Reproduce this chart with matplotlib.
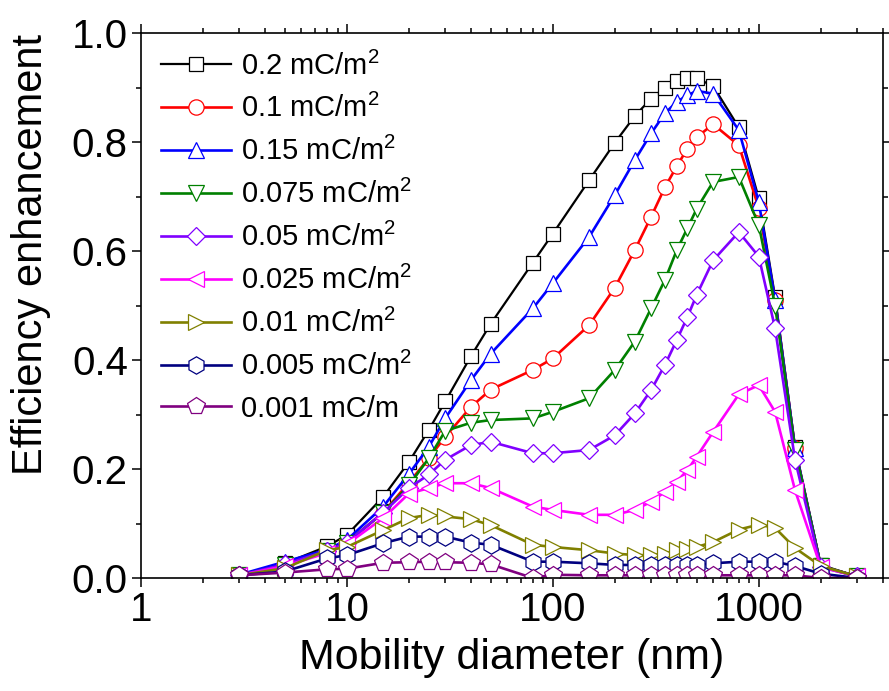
import matplotlib
matplotlib.use("Agg")
import matplotlib.pyplot as plt
from matplotlib.ticker import LogLocator, NullFormatter, FixedLocator, MultipleLocator

plt.rcParams['font.family'] = ['Liberation Sans', 'DejaVu Sans']
plt.rcParams['mathtext.fontset'] = 'custom'
plt.rcParams['mathtext.rm'] = 'Liberation Sans'
plt.rcParams['mathtext.it'] = 'Liberation Sans:italic'

diameter = [3, 5, 8, 10, 15, 20, 25, 30, 40, 50, 80, 100, 150, 200, 250, 300,
            350, 400, 450, 500, 600, 800, 1000, 1200, 1500, 2000, 3000]

s_0p2 = [0.004, 0.027, 0.058, 0.079, 0.149, 0.213, 0.272, 0.324, 0.407, 0.467, 0.579, 0.632,
         0.730, 0.799, 0.848, 0.880, 0.900, 0.912, 0.917, 0.917, 0.903, 0.827, 0.697, 0.516,
         0.241, 0.024, 0.003]
s_0p1 = [0.005, 0.025, 0.050, 0.065, 0.120, 0.175, 0.220, 0.259, 0.314, 0.346, 0.382, 0.403,
         0.464, 0.533, 0.602, 0.663, 0.717, 0.756, 0.788, 0.809, 0.833, 0.794, 0.679, 0.510,
         0.238, 0.022, 0.003]
s_0p15 = [0.006, 0.030, 0.052, 0.070, 0.131, 0.191, 0.241, 0.293, 0.363, 0.412, 0.495, 0.541,
          0.626, 0.703, 0.767, 0.816, 0.853, 0.874, 0.886, 0.894, 0.889, 0.822, 0.690, 0.510,
          0.238, 0.022, 0.003]
s_0p075 = [0.005, 0.024, 0.050, 0.065, 0.120, 0.170, 0.220, 0.270, 0.285, 0.290, 0.293, 0.305,
           0.330, 0.382, 0.434, 0.495, 0.547, 0.602, 0.642, 0.678, 0.727, 0.736, 0.648, 0.500,
           0.235, 0.022, 0.003]
s_0p05 = [0.005, 0.025, 0.050, 0.065, 0.120, 0.165, 0.190, 0.217, 0.244, 0.250, 0.229, 0.229,
          0.235, 0.262, 0.302, 0.345, 0.391, 0.437, 0.479, 0.520, 0.583, 0.635, 0.590, 0.458,
          0.217, 0.020, 0.003]
s_0p025 = [0.005, 0.022, 0.046, 0.062, 0.110, 0.155, 0.165, 0.174, 0.174, 0.165, 0.131, 0.125,
           0.116, 0.116, 0.125, 0.140, 0.158, 0.177, 0.198, 0.223, 0.268, 0.337, 0.354, 0.305,
           0.161, 0.020, 0.003]
s_0p01 = [0.005, 0.018, 0.051, 0.057, 0.088, 0.110, 0.116, 0.113, 0.108, 0.097, 0.061, 0.057,
          0.051, 0.045, 0.042, 0.042, 0.045, 0.051, 0.054, 0.057, 0.066, 0.089, 0.098, 0.092,
          0.055, 0.022, 0.003]
s_0p005 = [0.005, 0.012, 0.036, 0.042, 0.064, 0.076, 0.076, 0.076, 0.065, 0.061, 0.030, 0.030,
           0.027, 0.024, 0.024, 0.024, 0.024, 0.024, 0.024, 0.024, 0.027, 0.030, 0.030, 0.030,
           0.022, 0.008, 0.000]
s_0p001 = [0.005, 0.010, 0.016, 0.017, 0.028, 0.029, 0.030, 0.029, 0.028, 0.025, 0.000, 0.006,
           0.005, 0.005, 0.005, 0.005, 0.005, 0.005, 0.005, 0.005, 0.005, 0.005, 0.005, 0.005,
           0.005, 0.000, 0.000]

labels = [r'0.2 mC/m$^\mathregular{2}$', r'0.1 mC/m$^\mathregular{2}$', r'0.15 mC/m$^\mathregular{2}$',
          r'0.075 mC/m$^\mathregular{2}$', r'0.05 mC/m$^\mathregular{2}$', r'0.025 mC/m$^\mathregular{2}$',
          r'0.01 mC/m$^\mathregular{2}$', r'0.005 mC/m$^\mathregular{2}$', '0.001 mC/m']
series = [s_0p2, s_0p1, s_0p15, s_0p075, s_0p05, s_0p025, s_0p01, s_0p005, s_0p001]
colors = ['#000000', '#FF0000', '#0000FF', '#008000', '#8000FF', '#FF00FF', '#808000', '#000080', '#800080']
markers = ['s', 'o', '^', 'v', 'D', '<', '>', 'h', 'p']
msizes = [10, 11, 12, 12, 9.5, 12, 12, 12.5, 13]

fig = plt.figure(figsize=(8.89, 6.91), dpi=100)
ax = fig.add_axes([0.1586, 0.1635, 0.8344, 0.7885])

for ys, lab, c, m, ms in zip(series, labels, colors, markers, msizes):
    ax.plot(diameter, ys, color=c, marker=m, markersize=ms, markerfacecolor='white',
            markeredgecolor=c, markeredgewidth=0.9, linewidth=1.9 if c != '#000000' else 1.6,
            label=lab)

ax.set_xscale('log')
ax.set_xlim(1, 4000)
ax.set_ylim(0, 1.0)
ax.xaxis.set_major_locator(FixedLocator([1, 10, 100, 1000]))
ax.set_xticklabels(['1', '10', '100', '1000'])
ax.xaxis.set_minor_locator(LogLocator(base=10, subs=range(2, 10), numticks=20))
ax.xaxis.set_minor_formatter(NullFormatter())
ax.yaxis.set_major_locator(MultipleLocator(0.2))
ax.yaxis.set_minor_locator(MultipleLocator(0.1))
ax.set_yticks([0.0, 0.2, 0.4, 0.6, 0.8, 1.0])
ax.set_yticklabels(['0.0', '0.2', '0.4', '0.6', '0.8', '1.0'])

ax.tick_params(which='both', direction='out', top=True, right=True, width=1.1, labelsize=29)
ax.tick_params(which='major', length=6.5, pad=3)
ax.tick_params(which='minor', length=3.8)
for sp in ax.spines.values():
    sp.set_linewidth(1.2)

ax.set_xlabel('Mobility diameter (nm)', fontsize=31, labelpad=6)
ax.set_ylabel('Efficiency enhancement', fontsize=30)
ax.yaxis.set_label_coords(-0.121, 0.593)

leg = ax.legend(loc='upper left', bbox_to_anchor=(0.006, 0.995), frameon=False, fontsize=21,
                handlelength=2.4, handletextpad=0.35, labelspacing=0.47, borderaxespad=0.2,
                borderpad=0.33)

fig.savefig('out.png', dpi=100)
